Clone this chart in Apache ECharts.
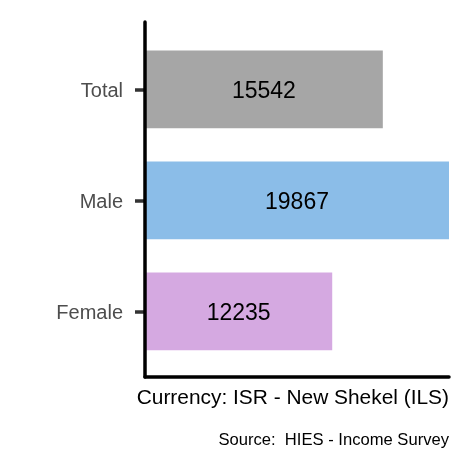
<!DOCTYPE html>
<html>
<head>
<meta charset="utf-8">
<script src="https://cdn.jsdelivr.net/npm/echarts@6/dist/echarts.min.js"></script>
<style>
html,body{margin:0;padding:0;background:#fff;}
#chart{width:472px;height:472px;}
</style>
</head>
<body>
<div id="chart"></div>
<script>
const categories = ['Total', 'Male', 'Female'];
const values = [15542, 19867, 12235];
const barColors = ['#A6A6A6', '#8BBDE8', '#D5A9E1'];
const xTitle = 'Currency: ISR - New Shekel (ILS)';
const caption = 'Source:  HIES - Income Survey';
const xMax = 19867;

const FONT = '"Liberation Sans", Arial, Helvetica, sans-serif';
const chart = echarts.init(document.getElementById('chart'), null, {renderer: 'canvas'});

chart.setOption({
  animation: false,
  backgroundColor: '#ffffff',
  textStyle: {fontFamily: FONT},
  title: [
    {text: xTitle, right: 23, top: 388, padding: 0,
     textStyle: {fontFamily: FONT, fontSize: 20.9, fontWeight: 'normal', color: '#000'}},
    {text: caption, right: 23, top: 432, padding: 0,
     textStyle: {fontFamily: FONT, fontSize: 16.6, fontWeight: 'normal', color: '#000'}}
  ],
  grid: [
    {left: 145, right: 23, top: 33.8, bottom: 472 - 366.8, containLabel: false},
    {left: 145, right: 23, top: 22, bottom: 472 - 377, containLabel: false}
  ],
  xAxis: [
    {gridIndex: 0, type: 'value', min: 0, max: xMax, show: false},
    {gridIndex: 1, type: 'value', min: 0, max: 1, z: 10,
     axisLine: {show: true, lineStyle: {color: '#000', width: 3.5}},
     axisTick: {show: false}, axisLabel: {show: false}, splitLine: {show: false}}
  ],
  yAxis: [
    {gridIndex: 0, type: 'category', data: categories, inverse: true,
     axisLine: {show: false},
     axisTick: {show: true, alignWithLabel: true, length: 10, lineStyle: {color: '#333333', width: 3.5}},
     axisLabel: {margin: 22, fontFamily: FONT, fontSize: 20, color: '#4D4D4D',
                 formatter: v => '{a|' + v + '}',
                 rich: {a: {fontFamily: FONT, fontSize: 20, color: '#4D4D4D', padding: [4, 0, 0, 0]}}},
     splitLine: {show: false}},
    {gridIndex: 1, type: 'value', min: 0, max: 1, z: 10,
     axisLine: {show: true, lineStyle: {color: '#000', width: 3.5}},
     axisTick: {show: false}, axisLabel: {show: false}, splitLine: {show: false}}
  ],
  series: [
    {
      type: 'bar',
      xAxisIndex: 0, yAxisIndex: 0,
      barWidth: '70%',
      data: values.map((v, i) => ({value: v, itemStyle: {color: barColors[i]}})),
      label: {show: true, position: 'inside', offset: [0, 2], fontFamily: FONT, fontSize: 23, color: '#000',
               formatter: p => String(p.value)}
    }
  ]
});
</script>
</body>
</html>
